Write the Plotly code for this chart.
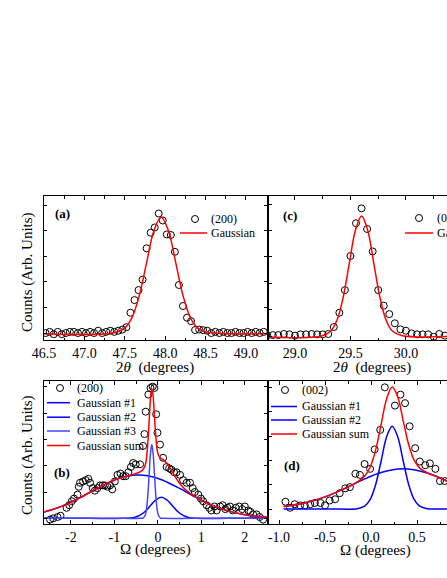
import plotly.graph_objects as go

FONT = "Liberation Serif"
BLACK = "#000000"
RED = "#ff0000"
BLUE = "#0000ff"
BLUE3 = "#4646ff"
W, H = 447, 578

# ---------------- Panel (a): (200) 2theta scan ----------------
a_x = [46.52, 46.57, 46.62, 46.67, 46.72, 46.77, 46.82, 46.87, 46.92, 46.97,
       47.02, 47.07, 47.12, 47.17, 47.22, 47.27, 47.32, 47.37, 47.42, 47.47,
       47.52, 47.57, 47.62, 47.67, 47.72, 47.77, 47.82, 47.87, 47.92, 47.97,
       48.02, 48.07, 48.12, 48.17, 48.22, 48.27, 48.32, 48.37, 48.42, 48.47,
       48.52, 48.57, 48.62, 48.67, 48.72, 48.77, 48.82, 48.87, 48.92, 48.97,
       49.02, 49.07, 49.12, 49.17, 49.22]
a_y = [0.00, 0.01, -0.01, 0.01, -0.01, 0.00, 0.01, 0.01, 0.00, 0.01,
       0.00, 0.01, 0.00, 0.02, 0.00, 0.01, 0.02, 0.01, 0.02, 0.03,
       0.05, 0.175, 0.284, 0.37, 0.46, 0.73, 0.865, 0.91, 1.03, 0.97,
       0.85, 0.845, 0.70, 0.414, 0.233, 0.132, 0.103, 0.026, 0.03, 0.025,
       0.02, 0.00, 0.01, 0.00, 0.01, 0.00, 0.00, 0.01, 0.00, 0.00,
       0.01, 0.00, 0.01, 0.00, 0.01]
a_fit_x = [46.3, 47.35, 47.5, 47.59, 47.68, 47.77, 47.86, 47.95, 48.04, 48.13,
           48.22, 48.31, 48.40, 48.55, 49.4]
a_fit_y = [0.0, 0.0, 0.044, 0.135, 0.325, 0.607, 0.882, 1.0, 0.882, 0.607,
           0.325, 0.135, 0.044, 0.004, 0.0]
a_ticks = [46.5, 47.0, 47.5, 48.0, 48.5, 49.0]

# ---------------- Panel (c): (002) 2theta scan ----------------
c_x = [28.75, 28.80, 28.85, 28.90, 28.95, 29.00, 29.05, 29.10, 29.15, 29.20,
       29.25, 29.30, 29.35, 29.40, 29.45, 29.50, 29.55, 29.60, 29.65, 29.70,
       29.75, 29.80, 29.85, 29.90, 29.95, 30.00, 30.05, 30.10, 30.15, 30.20,
       30.25, 30.30, 30.35]
c_y = [0.005, 0.008, 0.008, 0.017, 0.014, 0.003, 0.014, 0.014, 0.017, 0.014,
       0.014, 0.017, 0.075, 0.194, 0.383, 0.667, 0.94, 1.064, 0.892, 0.705,
       0.383, 0.253, 0.183, 0.106, 0.056, 0.044, 0.022, 0.014, 0.014, 0.014,
       -0.006, 0.017, 0.003]
c_fit_x = [28.6, 29.24, 29.325, 29.38, 29.435, 29.49, 29.545, 29.60, 29.655, 29.71,
           29.765, 29.82, 29.875, 29.96, 30.5]
c_fit_y = [0.0, 0.0, 0.044, 0.135, 0.325, 0.607, 0.882, 1.0, 0.882, 0.607,
           0.325, 0.135, 0.044, 0.005, 0.0]
c_ticks = [29.0, 29.5, 30.0]

# ---------------- Panel (b): (200) rocking curve ----------------
b_x = [-2.48, -2.41, -2.31, -2.24, -2.10, -2.04, -1.98, -1.93, -1.85, -1.82,
       -1.79, -1.72, -1.66, -1.60, -1.56, -1.50, -1.45, -1.39, -1.33, -1.27,
       -1.22, -1.16, -1.10, -1.05, -0.99, -0.93, -0.86, -0.80, -0.74, -0.68,
       -0.62, -0.57, -0.51, -0.41, -0.34, -0.31, -0.28, -0.22, -0.17, -0.12,
       -0.08, -0.04, -0.01, 0.05, 0.12, 0.20, 0.26, 0.31, 0.37, 0.43,
       0.51, 0.58, 0.66, 0.74, 0.80, 0.85, 0.93, 0.99, 1.04, 1.12,
       1.18, 1.23, 1.30, 1.35, 1.43, 1.49, 1.55, 1.60, 1.66, 1.72,
       1.79, 1.87, 1.94, 2.00, 2.08, 2.13, 2.19, 2.27, 2.34, 2.42]
b_y = [-0.01, 0.00, 0.01, 0.02, 0.08, 0.10, 0.13, 0.15, 0.18, 0.24,
       0.27, 0.28, 0.29, 0.30, 0.27, 0.23, 0.21, 0.23, 0.25, 0.25,
       0.25, 0.24, 0.25, 0.22, 0.28, 0.33, 0.34, 0.32, 0.32, 0.35,
       0.39, 0.42, 0.41, 0.41, 0.55, 0.64, 0.81, 0.94, 0.99, 1.00,
       0.99, 0.79, 0.65, 0.56, 0.46, 0.39, 0.38, 0.37, 0.35, 0.35,
       0.33, 0.29, 0.27, 0.27, 0.23, 0.20, 0.18, 0.15, 0.13, 0.10,
       0.08, 0.06, 0.09, 0.06, 0.09, 0.10, 0.07, 0.08, 0.09, 0.06,
       0.08, 0.09, 0.07, 0.09, 0.06, 0.05, 0.03, 0.03, 0.01, -0.01]
b_g1_x = [-2.7, -2.2, -1.8, -1.4, -1.0, -0.7, -0.45, -0.2, 0.1, 0.5, 0.9, 1.3, 1.7, 2.1, 2.6]
b_g1_y = [0.040, 0.093, 0.155, 0.227, 0.291, 0.321, 0.330, 0.321, 0.291, 0.227, 0.155, 0.093, 0.049, 0.022, 0.008]
b_g2_x = [-2.7, -1.6, -0.8, -0.545, -0.42, -0.295, -0.17, -0.045, 0.08, 0.205, 0.33, 0.455, 0.58, 0.705, 0.88, 1.6, 2.6]
b_g2_y = [0.0, 0.0, 0.0, 0.007, 0.022, 0.052, 0.097, 0.141, 0.16, 0.141, 0.097, 0.052, 0.022, 0.007, 0.0, 0.0, 0.0]
b_g3_x = [-2.7, -1.5, -0.8, -0.4, -0.34, -0.29, -0.26, -0.23, -0.20, -0.17, -0.14, -0.11, -0.08, -0.05, -0.02, 0.01, 0.06, 0.12, 0.8, 1.6, 2.6]
b_g3_y = [0.0, 0.0, 0.0, 0.0, 0.002, 0.025, 0.076, 0.182, 0.340, 0.494, 0.56, 0.494, 0.340, 0.182, 0.076, 0.025, 0.002, 0.0, 0.0, 0.0, 0.0]
b_sum_x = [-2.7, -2.2, -1.8, -1.4, -1.0, -0.7, -0.5, -0.4, -0.34, -0.29, -0.26, -0.23, -0.20, -0.17, -0.14,
           -0.11, -0.08, -0.05, -0.02, 0.01, 0.06, 0.15, 0.25, 0.35, 0.5, 0.65, 0.9, 1.3, 1.7, 2.1, 2.6]
b_sum_y = [0.040, 0.093, 0.155, 0.227, 0.291, 0.322, 0.341, 0.355, 0.371, 0.405, 0.464, 0.579, 0.746, 0.911, 0.986,
           0.929, 0.782, 0.631, 0.530, 0.481, 0.458, 0.438, 0.397, 0.342, 0.266, 0.212, 0.155, 0.093, 0.049, 0.022, 0.008]
b_ticks = [-2, -1, 0, 1, 2]

# ---------------- Panel (d): (002) rocking curve ----------------
d_x = [-0.93, -0.88, -0.83, -0.77, -0.72, -0.66, -0.61, -0.55, -0.50, -0.45,
       -0.39, -0.34, -0.28, -0.23, -0.17, -0.12, -0.07, -0.01, 0.04, 0.10,
       0.15, 0.26, 0.32, 0.37, 0.42, 0.48, 0.53, 0.59, 0.64, 0.70, 0.75, 0.80]
d_y = [0.06, 0.01, 0.04, 0.03, 0.03, 0.04, 0.05, 0.05, 0.03, 0.07,
       0.08, 0.13, 0.17, 0.18, 0.29, 0.28, 0.37, 0.33, 0.49, 0.65,
       1.00, 0.85, 0.94, 0.87, 0.68, 0.50, 0.39, 0.36, 0.375, 0.33, 0.23, 0.23]
d_g1_x = [-0.95, -0.7, -0.5, -0.3, -0.1, 0.1, 0.35, 0.6, 0.9]
d_g1_y = [0.020, 0.053, 0.10, 0.164, 0.236, 0.298, 0.33, 0.298, 0.205]
d_g2_x = [-0.95, -0.6, -0.4, -0.15, -0.07, -0.01, 0.05, 0.11, 0.17, 0.23, 0.29, 0.35, 0.41, 0.47, 0.53, 0.61, 0.75, 0.9]
d_g2_y = [0.0, 0.0, 0.0, 0.003, 0.023, 0.077, 0.20, 0.395, 0.594, 0.68, 0.594, 0.395, 0.20, 0.077, 0.023, 0.003, 0.0, 0.0]
d_sum_x = [-0.95, -0.7, -0.5, -0.3, -0.15, -0.07, -0.01, 0.05, 0.11, 0.17, 0.23, 0.29, 0.35, 0.41, 0.47, 0.53, 0.61, 0.7, 0.9]
d_sum_y = [0.020, 0.053, 0.10, 0.164, 0.222, 0.27, 0.343, 0.484, 0.695, 0.907, 1.002, 0.922, 0.725, 0.528, 0.399, 0.336, 0.298, 0.27, 0.205]
d_ticks = [-1.0, -0.5, 0.0, 0.5]


def px(x):
    return x / W


def py(y):
    return 1 - y / H


fig = go.Figure()

marker = dict(symbol="circle-open", size=7, color=BLACK, line=dict(width=1, color=BLACK))


def pts(x, y, xa, ya):
    fig.add_trace(go.Scatter(x=x, y=y, mode="markers", marker=marker,
                             xaxis=xa, yaxis=ya, showlegend=False, hoverinfo="skip"))


def curve(x, y, color, xa, ya, width=1.5):
    fig.add_trace(go.Scatter(x=x, y=y, mode="lines",
                             line=dict(color=color, width=width, shape="spline", smoothing=1.0),
                             xaxis=xa, yaxis=ya, showlegend=False, hoverinfo="skip"))


pts(a_x, a_y, "x", "y")
curve(a_fit_x, a_fit_y, RED, "x", "y")
pts(c_x, c_y, "x2", "y2")
curve(c_fit_x, c_fit_y, RED, "x2", "y2")
pts(b_x, b_y, "x3", "y3")
curve(b_g1_x, b_g1_y, BLUE, "x3", "y3")
curve(b_g2_x, b_g2_y, BLUE, "x3", "y3")
curve(b_g3_x, b_g3_y, BLUE3, "x3", "y3")
curve(b_sum_x, b_sum_y, RED, "x3", "y3")
pts(d_x, d_y, "x4", "y4")
curve(d_g1_x, d_g1_y, BLUE, "x4", "y4")
curve(d_g2_x, d_g2_y, BLUE, "x4", "y4")
curve(d_sum_x, d_sum_y, RED, "x4", "y4")

tickfont = dict(family=FONT, size=14, color=BLACK)


def xax(domain, rng, ticks, minor, fmt, anchor):
    return dict(domain=domain, range=rng, anchor=anchor, showgrid=False, zeroline=False,
                showline=True, linecolor=BLACK, linewidth=1, mirror="ticks",
                ticks="inside", ticklen=4, tickcolor=BLACK, tickwidth=1,
                tickvals=ticks, ticktext=[fmt.format(t) for t in ticks],
                tickfont=tickfont,
                minor=dict(dtick=minor, ticks="inside", ticklen=2.5, tickcolor=BLACK, showgrid=False))


def yax(domain, rng, anchor, mirror, dtick):
    return dict(domain=domain, range=rng, anchor=anchor, showgrid=False, zeroline=False,
                showline=True, linecolor=BLACK, linewidth=1, mirror=mirror,
                ticks="inside", ticklen=3, tickcolor=BLACK, dtick=dtick, tick0=0,
                showticklabels=False)


LEFT = [px(44), px(267)]
RIGHT = [px(269), 1.0]
TOP = [py(340), py(196)]
BOT = [py(524), py(381)]

fig.update_layout(
    width=W, height=H,
    margin=dict(l=0, r=0, t=0, b=0, autoexpand=False),
    paper_bgcolor="white", plot_bgcolor="white",
    showlegend=False,
    xaxis=xax(LEFT, [46.5, 49.26], a_ticks, 0.25, "{:.1f}", "y"),
    yaxis=yax(TOP, [-0.060, 1.181], "x", "ticks", 0.22),
    xaxis2=xax(RIGHT, [28.766, 30.37], c_ticks, 0.25, "{:.1f}", "y2"),
    yaxis2=yax(TOP, [-0.033, 1.167], "x2", False, 0.22),
    xaxis3=xax(LEFT, [-2.62, 2.51], b_ticks, 0.5, "{:d}", "y3"),
    yaxis3=yax(BOT, [-0.043, 1.043], "x3", "ticks", 0.2),
    xaxis4=xax(RIGHT, [-1.109, 0.826], d_ticks, 0.25, "{:.1f}", "y4"),
    yaxis4=yax(BOT, [-0.123, 1.052], "x4", False, 0.2),
)

ann = []


def text(x, y, s, size=12, xanchor="left", angle=0, bold=False):
    ann.append(dict(x=px(x), y=py(y), xref="paper", yref="paper", text=("<b>%s</b>" % s) if bold else s,
                    showarrow=False, xanchor=xanchor, yanchor="middle", textangle=angle,
                    font=dict(family=FONT, size=size, color=BLACK)))


shapes = []


def leg_line(x0, x1, y, color):
    shapes.append(dict(type="line", xref="paper", yref="paper", x0=px(x0), x1=px(x1), y0=py(y), y1=py(y),
                       line=dict(color=color, width=1.5)))


def leg_circle(xc, yc):
    shapes.append(dict(type="circle", xref="paper", yref="paper", xsizemode="pixel", ysizemode="pixel",
                       xanchor=px(xc), yanchor=py(yc), x0=-3.5, x1=3.5, y0=-3.5, y1=3.5,
                       line=dict(color=BLACK, width=1)))


# axis titles
text(155, 367, "2<i>θ</i>  (degrees)", 15, "center")
text(372, 367, "2<i>θ</i>  (degrees)", 15, "center")
text(155, 549, "Ω (degrees)", 15, "center")
text(375, 550, "Ω (degrees)", 15, "center")
text(27, 272, "Counts (Arb. Units)", 15, "center", -90)
text(27, 455, "Counts (Arb. Units)", 15, "center", -90)
# panel labels
text(63, 213, "(a)", 13, "center", bold=True)
text(290, 215, "(c)", 13, "center", bold=True)
text(62, 472, "(b)", 13, "center", bold=True)
text(292, 465, "(d)", 13, "center", bold=True)

# legend (a)
leg_circle(195, 219); text(209, 219, "(200)")
leg_line(180, 207, 233, RED); text(209, 233, "Gaussian")
# legend (c)
leg_circle(419, 218); text(435, 218, "(002)")
leg_line(405, 433, 233, RED); text(435, 233, "Gaussian")
# legend (b)
leg_circle(60, 388); text(75, 388, "(200)")
for yy, lab, col in [(402.7, "Gaussian #1", BLUE), (417.2, "Gaussian #2", BLUE),
                     (431, "Gaussian #3", BLUE3), (445.5, "Gaussian sum", RED)]:
    leg_line(47, 70, yy, col); text(75, yy, lab)
# legend (d)
leg_circle(285, 390); text(300, 390, "(002)")
for yy, lab, col in [(406.5, "Gaussian #1", BLUE), (420, "Gaussian #2", BLUE), (434, "Gaussian sum", RED)]:
    leg_line(271, 297, yy, col); text(300, yy, lab)

fig.update_layout(annotations=ann, shapes=shapes)
fig.write_html("out.html", config={"displayModeBar": False},
               post_script="document.body.style.margin='0';document.body.style.overflow='hidden';")
